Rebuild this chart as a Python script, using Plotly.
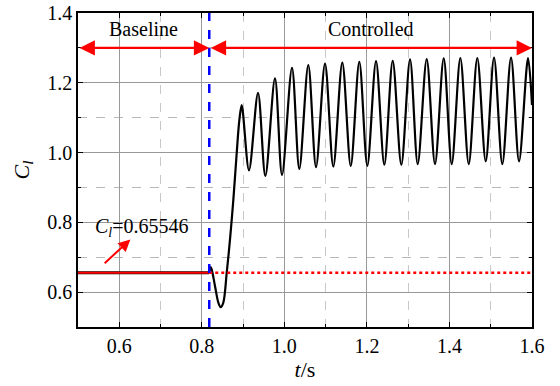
import plotly.graph_objects as go

# ---- data ----
t_flat = [0.5, 0.8175]
cl_flat = [0.65546, 0.65546]

t_start = [0.8175, 0.8215, 0.8240, 0.8320, 0.8400, 0.8457, 0.8521, 0.8603,
           0.8683, 0.8764, 0.8845, 0.8909, 0.8966]
cl_start = [0.65546, 0.672, 0.665, 0.617, 0.570, 0.557, 0.570, 0.655,
            0.751, 0.865, 0.998, 1.093, 1.136]

t_peaks = [0.9362, 0.9773, 1.0185, 1.0580, 1.0985, 1.1404, 1.1816, 1.2221, 1.2625,
           1.3045, 1.3449, 1.3861, 1.4264, 1.4675, 1.5080, 1.5492, 1.5904]
cl_peaks = [1.171, 1.2125, 1.243, 1.251, 1.255, 1.258, 1.260, 1.262, 1.263,
            1.267, 1.268, 1.270, 1.271, 1.271, 1.272, 1.272, 1.271]
t_troughs = [0.9143, 0.9539, 0.9943, 1.0362, 1.0767, 1.1186, 1.1608, 1.2010, 1.2422,
             1.2834, 1.3231, 1.3650, 1.4055, 1.4467, 1.4879, 1.5281, 1.5686]
cl_troughs = [0.949, 0.933, 0.936, 0.953, 0.958, 0.960, 0.962, 0.962, 0.965,
              0.965, 0.967, 0.967, 0.967, 0.967, 0.975, 0.967, 0.975]
t_end = [1.6]
cl_end = [1.136]

cl_baseline = 0.65546
t_switch = 0.818
x_ticks = [0.6, 0.8, 1.0, 1.2, 1.4, 1.6]
y_ticks = [0.6, 0.8, 1.0, 1.2, 1.4]

# assemble the traced curve
t_all = list(t_start)
cl_all = list(cl_start)
for tt, ct, tp, cp in zip(t_troughs, cl_troughs, t_peaks, cl_peaks):
    t_all += [tt, tp]
    cl_all += [ct, cp]
t_all += t_end
cl_all += cl_end

FONT = "'Times New Roman', 'Liberation Serif', Tinos, 'Nimbus Roman', 'DejaVu Serif', serif"

fig = go.Figure()
fig.add_trace(go.Scatter(x=t_flat, y=cl_flat, mode="lines",
                         line=dict(color="black", width=3),
                         hoverinfo="skip", showlegend=False))
fig.add_trace(go.Scatter(x=t_all, y=cl_all, mode="lines",
                         line=dict(color="black", width=2.2, shape="spline", smoothing=0.9),
                         hoverinfo="skip", showlegend=False))
# baseline red solid (before switch) and dotted (after)
fig.add_trace(go.Scatter(x=[0.5, t_switch], y=[cl_baseline, cl_baseline], mode="lines",
                         line=dict(color="red", width=2), showlegend=False))
fig.add_trace(go.Scatter(x=[t_switch, 1.6], y=[cl_baseline, cl_baseline], mode="lines",
                         line=dict(color="red", width=2.5, dash="dot"), showlegend=False))
# blue switch line
fig.add_trace(go.Scatter(x=[t_switch, t_switch], y=[0.5, 1.4], mode="lines",
                         line=dict(color="#0000FF", width=2.5, dash="dash"), showlegend=False))

annots = []
# double arrows
for x0, x1 in [(0.5, t_switch), (t_switch, 1.6)]:
    annots.append(dict(x=x1, y=1.3, ax=x0, ay=1.3, xref="x", yref="y", axref="x", ayref="y",
                       text="", showarrow=True, arrowhead=2, arrowside="end+start",
                       arrowsize=1.4, arrowwidth=2.2, arrowcolor="red",
                       startstandoff=0, standoff=0))
annots.append(dict(x=(0.5 + t_switch) / 2, y=1.355, xref="x", yref="y", text="Baseline",
                   showarrow=False, font=dict(family=FONT, size=20, color="black")))
annots.append(dict(x=(t_switch + 1.6) / 2, y=1.355, xref="x", yref="y", text="Controlled",
                   showarrow=False, font=dict(family=FONT, size=20, color="black")))
annots.append(dict(x=0.655, y=0.785, xref="x", yref="y",
                   text="<i>C</i><sub><i>l</i></sub>=0.65546",
                   showarrow=False, font=dict(family=FONT, size=20, color="black")))
annots.append(dict(x=0.627, y=0.751, ax=0.561, ay=0.679, xref="x", yref="y",
                   axref="x", ayref="y", text="", showarrow=True, arrowhead=2,
                   arrowsize=1.2, arrowwidth=2, arrowcolor="red", standoff=0))

axis_common = dict(showline=True, linecolor="black", linewidth=1.5, mirror="ticks",
                   ticks="inside", ticklen=5, tickwidth=1, tickcolor="black",
                   showgrid=True, gridcolor="#999999", gridwidth=1, zeroline=False,
                   automargin=False,
                   tickfont=dict(family=FONT, size=20, color="black"))

fig.update_layout(
    width=560, height=386,
    margin=dict(l=78, r=28, t=13, b=59),
    paper_bgcolor="white", plot_bgcolor="white",
    font=dict(family=FONT),
    annotations=annots,
    xaxis=dict(range=[0.5, 1.6], tickvals=x_ticks, ticktext=[f"{v:.1f}" for v in x_ticks],
               title=dict(text="<i>t</i>/s", font=dict(family=FONT, size=22, color="black"),
                          standoff=2),
               minor=dict(dtick=0.1, tick0=0.5, showgrid=True, gridcolor="#c8c8c8",
                          griddash="dash", gridwidth=1, ticks="inside", ticklen=3),
               **axis_common),
    yaxis=dict(range=[0.5, 1.4], tickvals=y_ticks, ticktext=[f"{v:.1f}" for v in y_ticks],
               title=dict(text="<i>C</i><sub><i>l</i></sub>",
                          font=dict(family=FONT, size=22, color="black"), standoff=12),
               minor=dict(dtick=0.1, tick0=0.5, showgrid=True, gridcolor="#b8b8b8",
                          griddash="dash", gridwidth=1, ticks="inside", ticklen=3),
               **axis_common),
)

# remove the page's default body margin so the 560x386 figure fills the window
fig.write_html("out.html", config={"displayModeBar": False},
               post_script="document.body.style.margin='0';document.body.style.padding='0';")
